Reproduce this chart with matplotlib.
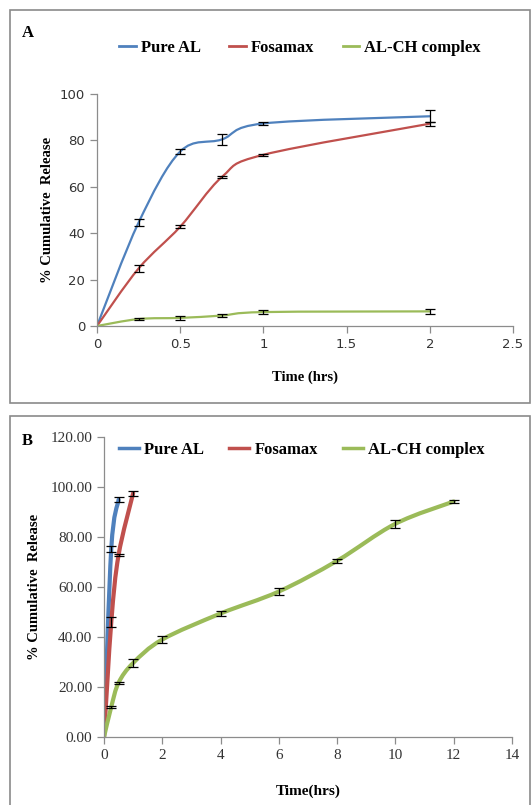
import numpy as np
import matplotlib
matplotlib.use("Agg")
import matplotlib.pyplot as plt
from matplotlib.path import Path
from matplotlib.patches import PathPatch, Rectangle
from matplotlib.lines import Line2D

# ---- panel A data ----
time_a = [0, 0.25, 0.5, 0.75, 1, 2]
pure_a = [0, 44.6, 75.2, 80.4, 87.3, 90.4]
pure_a_err = [0, 1.5, 1.0, 2.5, 0.6, 2.5]
fosa_a = [0, 24.8, 42.8, 64.2, 73.8, 87.2]
fosa_a_err = [0, 1.6, 0.6, 0.5, 0.5, 0.8]
alch_a = [0, 3.0, 3.5, 4.5, 6.0, 6.3]
alch_a_err = [0, 0.6, 0.7, 0.6, 0.7, 1.0]

# ---- panel B data ----
pure_b_t = [0, 0.25, 0.5]
pure_b = [0, 75.4, 94.9]
pure_b_err = [0, 1.2, 1.0]
fosa_b_t = [0, 0.25, 0.5, 1]
fosa_b = [0, 46.0, 72.8, 97.5]
fosa_b_err = [0, 2.0, 0.5, 1.0]
alch_b_t = [0, 0.25, 0.5, 1, 2, 4, 6, 8, 10, 12]
alch_b = [0, 12.1, 21.7, 29.6, 39.0, 49.4, 58.2, 70.5, 85.3, 94.2]
alch_b_err = [0, 0.4, 0.5, 1.5, 1.5, 1.0, 1.5, 0.7, 1.5, 0.4]

labels = ["Pure AL", "Fosamax", "AL-CH complex"]
colors = ["#4F81BD", "#C0504D", "#9BBB59"]

W, H = 532, 805
fig = plt.figure(figsize=(W / 100, H / 100), dpi=100)


def fx(px):
    return px / W


def fy(py):
    return 1 - py / H


def smooth(ax, x, y, color, lw):
    # excel-like smoothed line through the points (cubic bezier)
    x = np.asarray(x, float)
    y = np.asarray(y, float)
    n = len(x)
    verts = [(x[0], y[0])]
    codes = [Path.MOVETO]
    for i in range(n - 1):
        ip = max(i - 1, 0)
        inn = min(i + 2, n - 1)
        c1 = (x[i] + (x[i + 1] - x[ip]) / 6, y[i] + (y[i + 1] - y[ip]) / 6)
        c2 = (x[i + 1] - (x[inn] - x[i]) / 6, y[i + 1] - (y[inn] - y[i]) / 6)
        verts += [c1, c2, (x[i + 1], y[i + 1])]
        codes += [Path.CURVE4] * 3
    ax.add_patch(PathPatch(Path(verts, codes), facecolor="none", edgecolor=color,
                           lw=lw, transform=ax.transData, capstyle="round", zorder=2))


def style_axes(ax, tickfont, ticksize):
    for s in ["top", "right"]:
        ax.spines[s].set_visible(False)
    for s in ["left", "bottom"]:
        ax.spines[s].set_color("#8c8c8c")
        ax.spines[s].set_linewidth(0.9)
    ax.tick_params(direction="out", length=5, width=0.9, color="#8c8c8c",
                   labelsize=ticksize, labelcolor="#333333", pad=3.5)
    for t in ax.get_xticklabels() + ax.get_yticklabels():
        t.set_fontfamily(tickfont)


# panel frames
fig.patches.append(Rectangle((fx(10), fy(403)), fx(530) - fx(10), fy(10) - fy(403),
                             transform=fig.transFigure, fill=False, ec="#8a8a8a", lw=1.2))
fig.patches.append(Rectangle((fx(10), fy(830)), fx(530) - fx(10), fy(416) - fy(830),
                             transform=fig.transFigure, fill=False, ec="#8a8a8a", lw=1.2))

serif = "Liberation Serif"

# ---- panel A ----
axA = fig.add_axes([fx(97), fy(326), fx(513) - fx(97), fy(94) - fy(326)])
for yv, ev, c in [(pure_a, pure_a_err, colors[0]), (fosa_a, fosa_a_err, colors[1]),
                  (alch_a, alch_a_err, colors[2])]:
    smooth(axA, time_a, yv, c, 1.6)
    axA.errorbar(time_a[1:], yv[1:], yerr=ev[1:], fmt="none", ecolor="black",
                 elinewidth=0.9, capsize=3.5, capthick=0.9, zorder=3)
axA.set_xlim(0, 2.5)
axA.set_ylim(0, 100)
axA.set_xticks([0, 0.5, 1, 1.5, 2, 2.5])
axA.set_xticklabels(["0", "0.5", "1", "1.5", "2", "2.5"])
axA.set_yticks([0, 20, 40, 60, 80, 100])
style_axes(axA, "DejaVu Sans", 9.5)
axA.set_xlabel("Time (hrs)", fontfamily=serif, fontweight="bold", fontsize=10.5, labelpad=14)
axA.set_ylabel("% Cumulative  Release", fontfamily=serif, fontweight="bold", fontsize=10.5, labelpad=4)
fig.text(fx(22), fy(33), "A", fontfamily=serif, fontweight="bold", fontsize=12, va="center")

handles = [Line2D([], [], color=c, lw=2) for c in colors]
fig.legend(handles, labels, loc="center", bbox_to_anchor=(fx(300), fy(48)), ncol=3,
           frameon=False, handlelength=1.0, handletextpad=0.3, columnspacing=1.7,
           prop={"family": serif, "weight": "bold", "size": 12})

# ---- panel B ----
axB = fig.add_axes([fx(104), fy(737), fx(512) - fx(104), fy(437) - fy(737)])
for tv, yv, ev, c in [(pure_b_t, pure_b, pure_b_err, colors[0]),
                      (fosa_b_t, fosa_b, fosa_b_err, colors[1]),
                      (alch_b_t, alch_b, alch_b_err, colors[2])]:
    smooth(axB, tv, yv, c, 3.0)
    axB.errorbar(tv[1:], yv[1:], yerr=ev[1:], fmt="none", ecolor="black",
                 elinewidth=0.9, capsize=3.5, capthick=0.9, zorder=3)
axB.set_xlim(0, 14)
axB.set_ylim(0, 120)
axB.set_xticks(range(0, 15, 2))
axB.set_yticks(range(0, 121, 20))
axB.set_yticklabels(["%.2f" % v for v in range(0, 121, 20)])
style_axes(axB, serif, 11)
axB.set_xlabel("Time(hrs)", fontfamily=serif, fontweight="bold", fontsize=11, labelpad=16)
axB.set_ylabel("% Cumulative  Release", fontfamily=serif, fontweight="bold", fontsize=10.5, labelpad=7)
fig.text(fx(22), fy(441), "B", fontfamily=serif, fontweight="bold", fontsize=12, va="center")

handles = [Line2D([], [], color=c, lw=2.5) for c in colors]
fig.legend(handles, labels, loc="center", bbox_to_anchor=(fx(302), fy(450)), ncol=3,
           frameon=False, handlelength=1.2, handletextpad=0.3, columnspacing=1.5,
           prop={"family": serif, "weight": "bold", "size": 12})

fig.savefig("out.png", dpi=100)
